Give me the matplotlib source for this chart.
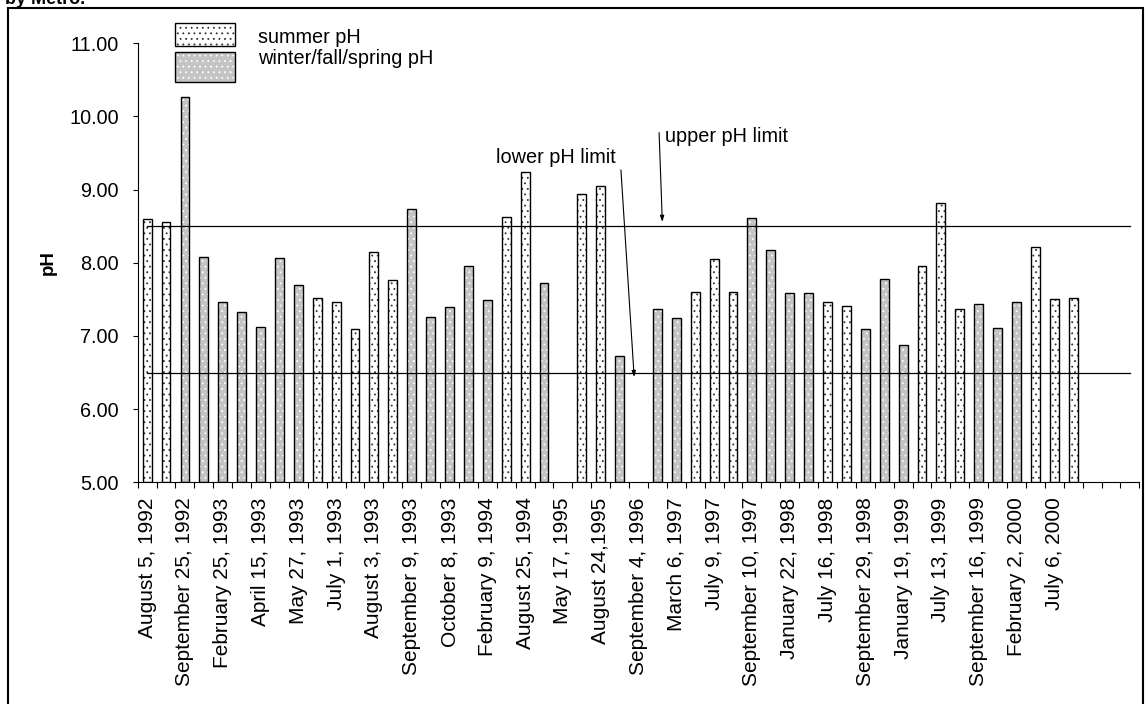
import numpy as np
import matplotlib
matplotlib.use("Agg")
import matplotlib.pyplot as plt
from matplotlib.patches import Rectangle

plt.rcParams["font.family"] = ["Liberation Sans", "DejaVu Sans"]
plt.rcParams["hatch.linewidth"] = 0.6

# sampling dates (only every other category carries a label on the axis)
tick_labels = ["August 5, 1992", "September 25, 1992", "February 25, 1993",
               "April 15, 1993", "May 27, 1993", "July 1, 1993", "August 3, 1993",
               "September 9, 1993", "October 8, 1993", "February 9, 1994",
               "August 25, 1994", "May 17, 1995", "August 24,1995",
               "September 4, 1996", "March 6, 1997", "July 9, 1997",
               "September 10, 1997", "January 22, 1998", "July 16, 1998",
               "September 29, 1998", "January 19, 1999", "July 13, 1999",
               "September 16, 1999", "February 2, 2000", "July 6, 2000"]
n_cat = 53

nan = np.nan
summer_ph = [8.60, 8.56, nan, nan, nan, nan, nan, nan, nan, 7.52,
             7.47, 7.09, 8.15, 7.77, nan, nan, nan, nan, nan, 8.63,
             9.24, nan, nan, 8.94, 9.05, nan, nan, nan, nan, 7.60,
             8.05, 7.60, nan, nan, nan, nan, 7.47, 7.41, nan, nan,
             nan, 7.96, 8.82, 7.37, nan, nan, nan, 8.22, 7.51, 7.52,
             nan, nan, nan]
other_ph = [nan, nan, 10.27, 8.08, 7.47, 7.33, 7.12, 8.06, 7.70, nan,
            nan, nan, nan, nan, 8.74, 7.26, 7.39, 7.96, 7.49, nan,
            nan, 7.73, nan, nan, nan, 6.72, nan, 7.37, 7.25, nan,
            nan, nan, 8.61, 8.17, 7.59, 7.59, nan, nan, 7.09, 7.78,
            6.88, nan, nan, nan, 7.44, 7.11, 7.47, nan, nan, nan,
            nan, nan, nan]

upper_limit = 8.5
lower_limit = 6.5

W, H = 1145, 704
fig = plt.figure(figsize=(W / 100, H / 100), dpi=100)
ax = fig.add_axes([137.7 / W, 1 - 482.3 / H, 1001.6 / W, 439.0 / H])

x = np.arange(n_cat)
base = 5.0
summer_h = np.array(summer_ph) - base
other_h = np.array(other_ph) - base
bw = 0.47

# fills with dotted hatching, then black outlines on top
ax.bar(x, summer_h, bw, bottom=base, color="white", edgecolor="#333333",
       hatch="...", linewidth=0)
ax.bar(x, other_h, bw, bottom=base, color="#c4c4c4", edgecolor="white",
       hatch="...", linewidth=0)
ax.bar(x, summer_h, bw, bottom=base, fill=False, edgecolor="black", linewidth=1.0)
ax.bar(x, other_h, bw, bottom=base, fill=False, edgecolor="black", linewidth=1.0)

ax.plot([0, n_cat - 1], [upper_limit, upper_limit], color="black", lw=0.9)
ax.plot([0, n_cat - 1], [lower_limit, lower_limit], color="black", lw=0.9)

ax.set_xlim(-0.5, n_cat - 0.5)
ax.set_ylim(5, 11)
ax.set_yticks(np.arange(5, 11.01, 1))
ax.set_yticklabels([f"{v:.2f}" for v in np.arange(5, 11.01, 1)], fontsize=14.3)
ax.tick_params(axis="y", length=3.6, width=0.8, pad=9.9, direction="out")

ax.set_xticks(np.arange(0, 2 * len(tick_labels), 2))
ax.set_xticklabels(tick_labels, rotation=90, fontsize=15, va="top", ha="center")
ax.set_xticks(np.arange(n_cat + 1) - 0.5, minor=True)
ax.tick_params(axis="x", which="major", length=0, pad=10.8)
ax.tick_params(axis="x", which="minor", length=4.3, width=0.8, direction="out")

for s in ["top", "right"]:
    ax.spines[s].set_visible(False)
for s in ["left", "bottom"]:
    ax.spines[s].set_linewidth(0.8)

ax.set_ylabel("pH", fontsize=13.5, fontweight="bold")
ax.yaxis.set_label_coords(-0.0806, 0.5)

# limit annotations
ax.annotate("", xy=(27.26, 8.56), xytext=(27.09, 9.78),
            arrowprops=dict(arrowstyle="-|>,head_length=0.35,head_width=0.12",
                            color="black", lw=0.8, shrinkA=0, shrinkB=0))
ax.text(27.39, 9.65, "upper pH limit", fontsize=14.3, va="baseline", ha="left")
ax.annotate("", xy=(25.77, 6.44), xytext=(25.07, 9.27),
            arrowprops=dict(arrowstyle="-|>,head_length=0.35,head_width=0.12",
                            color="black", lw=0.8, shrinkA=0, shrinkB=0))
ax.text(18.46, 9.37, "lower pH limit", fontsize=14.3, va="baseline", ha="left")


def fx(px):
    return px / W


def fy(py):
    return 1 - py / H


# legend drawn by hand to match the boxes
leg = [("summer pH", "white", "#333333", 23, 46, 43),
       ("winter/fall/spring pH", "#c4c4c4", "white", 52, 82, 64)]
for label, fc, hc, top, bot, baseline in leg:
    fig.add_artist(Rectangle((fx(175), fy(bot)), fx(60), (bot - top) / H,
                             facecolor=fc, edgecolor=hc, hatch="...", lw=0,
                             transform=fig.transFigure))
    fig.add_artist(Rectangle((fx(175), fy(bot)), fx(60), (bot - top) / H,
                             fill=False, edgecolor="black", lw=1.0,
                             transform=fig.transFigure))
    fig.text(fx(258), fy(baseline), label, fontsize=14.3, va="baseline")

# outer frame and clipped title fragment
fig.add_artist(Rectangle((fx(7.5), fy(708)), fx(1135), 700.5 / H, fill=False,
                         edgecolor="black", lw=1.5, transform=fig.transFigure))
fig.text(fx(5), fy(3.5), "by Metro.", fontsize=13, fontweight="bold",
         va="baseline")

fig.savefig("out.png", dpi=100)
